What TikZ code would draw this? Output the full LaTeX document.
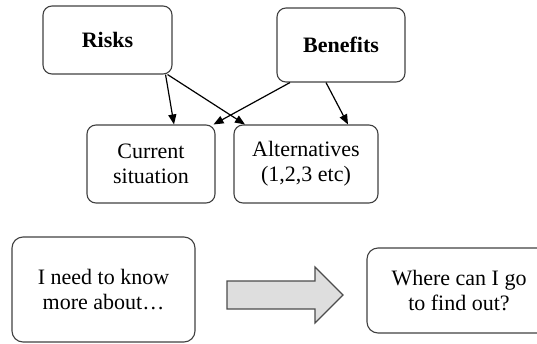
\documentclass[tikz,border=0pt]{standalone}
\usepackage{fontspec}
\setmainfont{Liberation Serif}
\usetikzlibrary{arrows.meta}
\begin{document}
\begin{tikzpicture}[x=1pt,y=-1pt,
  box/.style={draw=black!75,line width=1.1pt,rounded corners=9pt,align=center,inner sep=0pt,
    font=\fontsize{22}{25}\selectfont},
  link/.style={-{Triangle[length=10pt,width=8pt]},line width=1.2pt},
  bigarrow/.style={draw=black!70,line width=1.1pt,fill=black!13}]
\useasboundingbox (0,0) rectangle (537,343);
\clip (0,0) rectangle (537,343);
\draw 	(107.5,40) node[box,minimum width=129pt,minimum height=68pt,font=\fontsize{22}{25}\selectfont\bfseries](risks){Risks}
		(341,45) node[box,minimum width=128pt,minimum height=74pt,font=\fontsize{22}{25}\selectfont\bfseries](benefits){Benefits};
\draw 	(151,164) node[box,minimum width=128pt,minimum height=78pt](current){Current\\situation}
		(306,164) node[box,minimum width=144pt,minimum height=78pt](altern){Alternatives\\(1,2,3 etc)};
\path[link]
    ([xshift=-7pt]risks.south east) edge node {} ([xshift=23pt]current.north)
    ([xshift=-5pt]risks.south east) edge node {} ([xshift=-61pt]altern.north)
    ([xshift=-51pt]benefits.south) edge node {} ([xshift=-2pt]current.north east)
    ([xshift=-15pt]benefits.south) edge node {} ([xshift=42pt]altern.north);

\draw 	(103.5,289.5) node[box,rounded corners=11pt,minimum width=183pt,minimum height=105pt](know){I need to know\\more about\dots}
		(459,290.5) node[box,rounded corners=11pt,minimum width=184pt,minimum height=85pt](where){Where can I go\\to find out?};
\draw[bigarrow] (227,281) -- (315,281) -- (315,267) -- (343,295) -- (315,323) -- (315,309) -- (227,309) -- cycle;
\end{tikzpicture}
\end{document}
